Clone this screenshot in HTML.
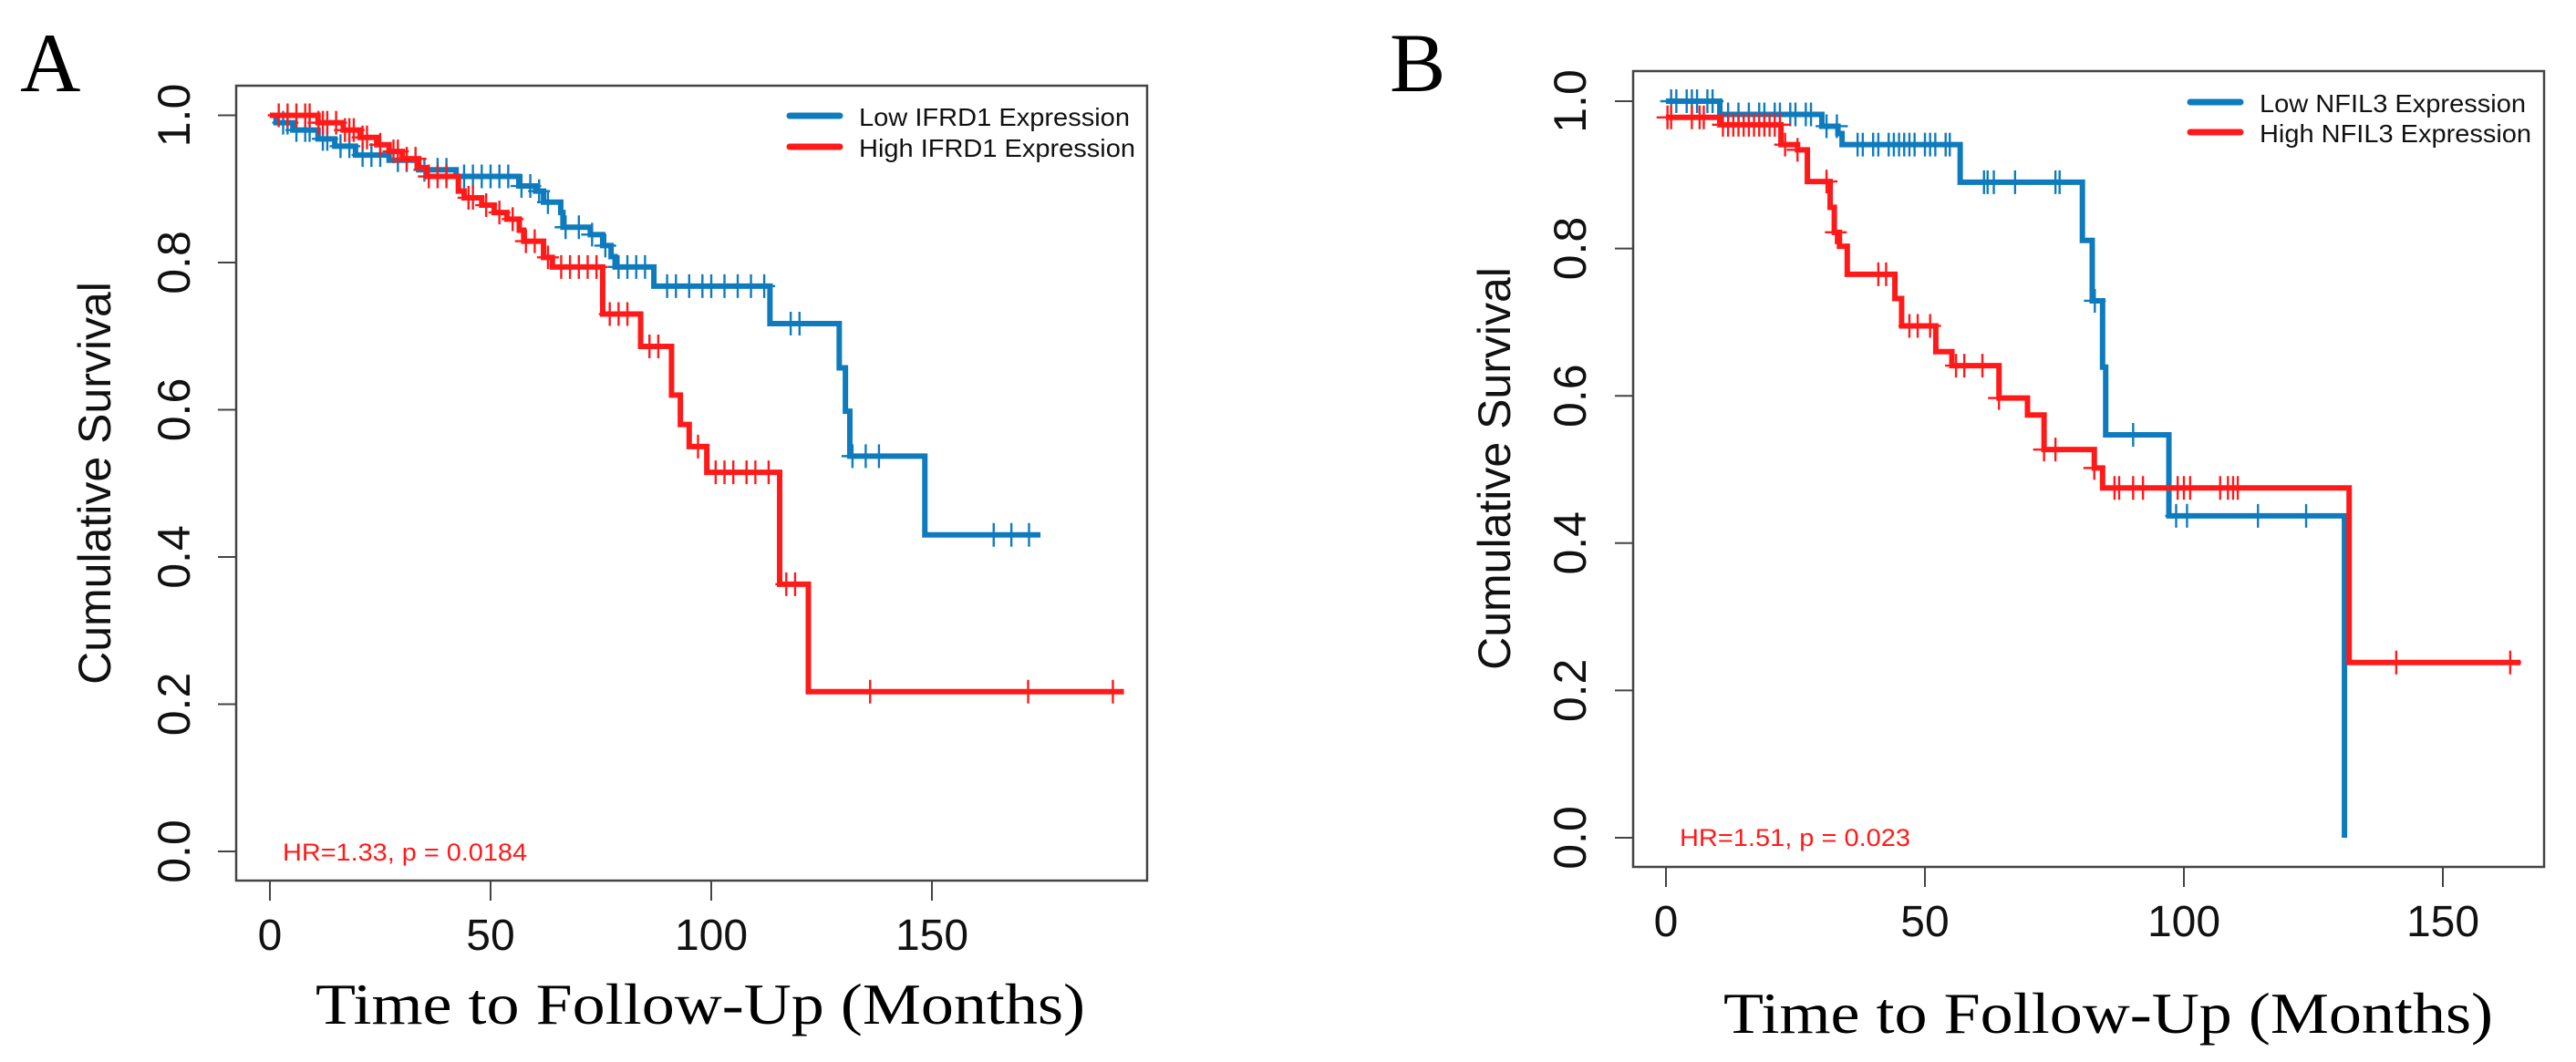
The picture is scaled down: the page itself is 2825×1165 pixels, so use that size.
<!DOCTYPE html>
<html><head><meta charset="utf-8">
<style>
html,body{margin:0;padding:0;background:#fff;}
svg{display:block;}
</style></head>
<body>
<svg id="fig" xmlns="http://www.w3.org/2000/svg" width="2825" height="1165" viewBox="0 0 2825 1165">
<rect width="2825" height="1165" fill="#fff"/>
<g id="panelA"></g>
<g id="panelB"></g>
</svg>
<script>
// ---------- Data: Panel A ----------
const aBlueTimes = [0,1.4,5.2,10.9,14.7,19.4,27,33.7,42.2,56.4,60.2,62,65.9,66.4,72.6,75.4,77.3,78.2,87,113.3,129,130.4,131.4,148.4];
const aBlueSurv  = [1,0.99,0.98,0.968,0.958,0.946,0.939,0.926,0.917,0.904,0.897,0.882,0.868,0.848,0.838,0.823,0.808,0.794,0.768,0.717,0.657,0.598,0.537,0.43];
const aBlueEnd = 174.6;
const aBlueCensor = [3,4,6,8,9,12,13,16,18,21,23,25,29,31,35,38,40,44,46,48,50,52,54,57,59,61,63,67,70,73,76,79,81,83,85,90,92,95,98,100,103,106,109,112,118,120,132,135,138,164,168,172];
const aRedTimes = [0,10.9,16.6,20.4,24.2,27,30,33.7,35.6,42.7,44,48,50.8,53.7,56.5,57.5,62,64,75.4,84,91,93,95,99,115.5,122];
const aRedSurv  = [1,0.99,0.98,0.97,0.96,0.951,0.941,0.929,0.917,0.897,0.888,0.878,0.868,0.859,0.844,0.829,0.807,0.794,0.73,0.686,0.62,0.58,0.55,0.515,0.363,0.217];
const aRedEnd = 193.5;
const aRedCensor = [2,4,6,8,9,11,12,13,15,17,18,19,21,22,25,28,29,31,33,36,38,40,45,46,49,52,55,58,60,63,66,68,70,72,74,77,79,81,86,88,97,101,103,105,108,110,113,117,119,136,171.8,191];
// ---------- Data: Panel B ----------
const bBlueTimes = [0,10.4,30.1,33.2,34,56.8,80.4,82.3,84.3,84.9,97.1,131];
const bBlueSurv  = [1,0.982,0.966,0.956,0.941,0.89,0.811,0.729,0.639,0.547,0.437,0];
const bBlueEnd = 131;
const bBlueCensor = [1,2,4,5,6,8,9,12,14,16,18,19,21,22,24,25,27,28,31,33,37,38,40,41,43,44,45,46,47,48,50,51,52,54,54.8,61.4,62.1,63.3,67.4,75.2,76,82.8,90.2,98.5,100.6,114.3,123.6];
const bRedTimes = [0,10.4,22.2,25.4,27.3,31.7,32.5,33.5,35,44.2,45.5,52.1,55.2,64.3,69.8,73,82.7,84.3,131.9];
const bRedSurv  = [0.978,0.968,0.941,0.934,0.891,0.856,0.822,0.803,0.765,0.732,0.695,0.66,0.641,0.597,0.574,0.527,0.502,0.475,0.238];
const bRedEnd = 165;
const bRedCensor = [0.3,1,5,6.5,7.3,11,12,13,14,15,16,17,18,19,20,21,22,23,25.4,31,32.8,41,42.5,47,48.6,51,56,57.6,61.1,64.3,73,75.2,82.7,86.6,87.5,90.2,92.1,98.8,100,101.2,107,108.5,109.5,110.4,141,163];
// ---------- Ticks ----------
const xTicks = [0,50,100,150];
const yTicks = [0,0.2,0.4,0.6,0.8,1.0];
const yTickLabels = ["0.0","0.2","0.4","0.6","0.8","1.0"];

const NS = "http://www.w3.org/2000/svg";
const BLUE = "#0e7bbd", RED = "#ff1a1a";

function mk(parent, tag, attrs, text){
  const e = document.createElementNS(NS, tag);
  for (const k in attrs) e.setAttribute(k, attrs[k]);
  if (text !== undefined) e.textContent = text;
  parent.appendChild(e);
  return e;
}
function stepAt(times, surv, t){
  let s = surv[0];
  for (let i=0;i<times.length;i++){ if (times[i] <= t) s = surv[i]; }
  return s;
}

function drawPanel(g, cfg){
  const sx = t => cfg.x0 + cfg.pxPerMonth * t;
  const sy = s => cfg.y0 - cfg.pxPerUnit * s;
  const frame = mk(g,"rect",{x:cfg.left,y:cfg.top,width:cfg.right-cfg.left,height:cfg.bottom-cfg.top,fill:"none",stroke:"#444","stroke-width":2.5});
  
  
  const L = mk(g,"text",{x:cfg.letterX,y:100,"font-family":"Liberation Serif, serif","font-size":92,fill:"#000"},cfg.letter);
  
  
  yTicks.forEach((v,i)=>{
    const y = sy(v);
    const tk = mk(g,"line",{x1:cfg.left-20,x2:cfg.left,y1:y,y2:y,stroke:"#444","stroke-width":2});
    
    
    const lb = mk(g,"text",{x:0,y:0,transform:`translate(${cfg.yLabX+18},${y}) rotate(-90)`,"text-anchor":"middle","font-family":"Liberation Sans, sans-serif","font-size":50,fill:"#111"},yTickLabels[i]);
    
    
  });
  xTicks.forEach(v=>{
    const x = sx(v);
    const tk = mk(g,"line",{x1:x,x2:x,y1:cfg.bottom,y2:cfg.bottom+22,stroke:"#444","stroke-width":2});
    
    
    const lb = mk(g,"text",{x:x,y:cfg.xLabBase,"text-anchor":"middle","font-family":"Liberation Sans, sans-serif","font-size":48,fill:"#111"},String(v));
    
    
  });
  const yt = mk(g,"text",{x:0,y:0,transform:`translate(${cfg.yTitleX+18},${cfg.yTitleY}) rotate(-90)`,"text-anchor":"middle","font-family":"Liberation Sans, sans-serif","font-size":50,fill:"#111"},"Cumulative Survival");
  
  
  const xt = mk(g,"text",{x:cfg.xTitleX,y:cfg.xTitleBase,"text-anchor":"middle","font-family":"Liberation Serif, serif","font-size":64,fill:"#000",textLength:844,lengthAdjust:"spacingAndGlyphs"},"Time to Follow-Up (Months)");
  
  
  cfg.series.forEach(se=>{
    let d = `M${sx(se.times[0])},${sy(se.surv[0])}`;
    for (let i=1;i<se.times.length;i++){
      d += ` H${sx(se.times[i])} V${sy(se.surv[i])}`;
    }
    d += ` H${sx(se.end)}`;
    const p = mk(g,"path",{d:d,fill:"none",stroke:se.color,"stroke-width":6,"stroke-linejoin":"miter"});
    
    
    se.censor.forEach(t=>{
      const cx = sx(t), cy = sy(stepAt(se.times,se.surv,t));
      const c = mk(g,"path",{d:`M${cx},${cy-13} V${cy+13} M${cx-12},${cy} H${cx+12}`,stroke:se.color,"stroke-width":2.4,fill:"none"});
      
      
    });
  });
  cfg.legend.forEach((lg,i)=>{
    const ly = cfg.legY + i*cfg.legGap;
    const ln = mk(g,"line",{x1:cfg.legX,x2:cfg.legX+55,y1:ly,y2:ly,stroke:lg.color,"stroke-width":7,"stroke-linecap":"round"});
    
    
    const tx = mk(g,"text",{x:cfg.legTextX,y:ly+11,"font-family":"Liberation Sans, sans-serif","font-size":28,fill:"#111",textLength:lg.w,lengthAdjust:"spacingAndGlyphs"},lg.label);
    
    
  });
  const hr = mk(g,"text",{x:cfg.hrX,y:cfg.hrBase,"font-family":"Liberation Sans, sans-serif","font-size":27,fill:RED,textLength:cfg.hrW,lengthAdjust:"spacingAndGlyphs"},cfg.hr);
  
  
}

drawPanel(document.getElementById('panelA'),{
  left:259,right:1258,top:94,bottom:966,
  x0:296,pxPerMonth:4.84,y0:934,pxPerUnit:807.5,
  letter:"A",letterX:22,yLabX:190,yTitleX:103,yTitleY:530,xLabBase:1042,xTitleX:768,xTitleBase:1123,
  legX:866,legTextX:942,legY:127,legGap:34,
  legend:[{label:"Low IFRD1 Expression",color:BLUE,w:297},{label:"High IFRD1 Expression",color:RED,w:303}],
  hr:"HR=1.33, p = 0.0184",hrX:310,hrBase:944,hrW:268,
  series:[
    {name:'low-ifrd1',color:BLUE,times:aBlueTimes,surv:aBlueSurv,end:aBlueEnd,censor:aBlueCensor},
    {name:'high-ifrd1',color:RED,times:aRedTimes,surv:aRedSurv,end:aRedEnd,censor:aRedCensor}
  ]
});
drawPanel(document.getElementById('panelB'),{
  left:1791,right:2790,top:78,bottom:951,
  x0:1827,pxPerMonth:5.68,y0:919,pxPerUnit:808,
  letter:"B",letterX:1524,yLabX:1721,yTitleX:1638,yTitleY:514,xLabBase:1027,xTitleX:2312,xTitleBase:1133,
  legX:2402,legTextX:2478,legY:112,legGap:33,
  legend:[{label:"Low NFIL3 Expression",color:BLUE,w:292},{label:"High NFIL3 Expression",color:RED,w:298}],
  hr:"HR=1.51, p = 0.023",hrX:1842,hrBase:928,hrW:253,
  series:[
    {name:'low-nfil3',color:BLUE,times:bBlueTimes,surv:bBlueSurv,end:bBlueEnd,censor:bBlueCensor},
    {name:'high-nfil3',color:RED,times:bRedTimes,surv:bRedSurv,end:bRedEnd,censor:bRedCensor}
  ]
});
</script>
</body></html>
